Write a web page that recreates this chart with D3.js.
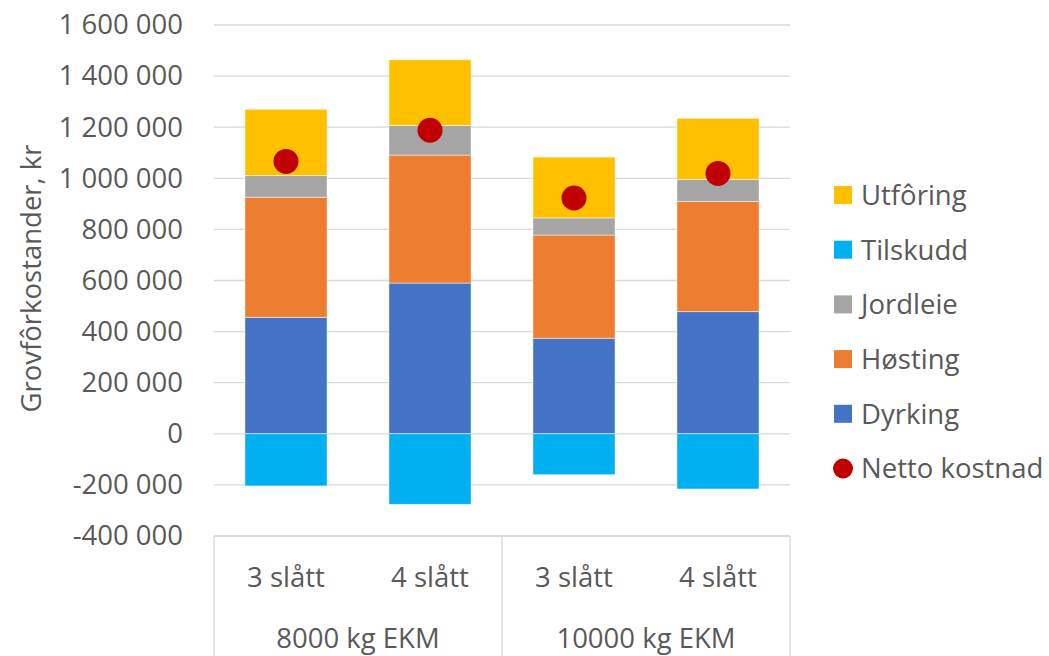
<!DOCTYPE html>
<html>
<head>
<meta charset="utf-8">
<script src="https://cdn.jsdelivr.net/npm/d3@7/dist/d3.min.js"></script>
<style>
  html, body { margin: 0; padding: 0; background: #fff; }
  svg text { font-family: "Open Sans", sans-serif; fill: #595959; }
</style>
</head>
<body>
<svg id="chart" width="1049" height="656"></svg>
<script>
// Category labels (two levels)
const categories = ["3 slått", "4 slått", "3 slått", "4 slått"];
const groups = ["8000 kg EKM", "10000 kg EKM"];

// Cost components per category, kr
const dyrking  = [456000, 590000, 374000, 478000];
const hosting  = [470000, 501000, 404000, 431000];
const jordleie = [85000, 116000, 67000, 87000];
const utforing = [259000, 257000, 238000, 239000];
const tilskudd = [-204000, -276000, -160000, -216000];
const netto    = [1066000, 1188000, 923000, 1019000];

// Axis ticks
const yTicks = [-400000, -200000, 0, 200000, 400000, 600000, 800000,
                1000000, 1200000, 1400000, 1600000];

const seriesNames = ["Dyrking", "Høsting", "Jordleie", "Utfôring", "Tilskudd"];
const seriesValues = [dyrking, hosting, jordleie, utforing, tilskudd];
const colors = {
  "Dyrking": "#4472c4",
  "Høsting": "#ed7d31",
  "Jordleie": "#a5a5a5",
  "Utfôring": "#ffc000",
  "Tilskudd": "#00b0f0"
};
const nettoColor = "#c00000";

const rows = categories.map((c, i) => {
  const r = { idx: i };
  seriesNames.forEach((s, k) => r[s] = seriesValues[k][i]);
  return r;
});

const svg = d3.select("#chart");
const plot = { left: 214, right: 790, top: 25, bottom: 536 };
const fontSize = 27.5;

const x = d3.scaleBand()
  .domain(d3.range(categories.length))
  .range([plot.left, plot.right])
  .paddingInner(0.43)
  .paddingOuter(0.215);

const y = d3.scaleLinear()
  .domain([-400000, 1600000])
  .range([plot.bottom, plot.top]);

const fmt = v => {
  const s = d3.format(",")(Math.abs(v)).replace(/,/g, " ");
  return (v < 0 ? "-" : "") + s;
};

// Gridlines and value axis labels
const yAxis = d3.axisLeft(y).tickValues(yTicks).tickSize(0).tickFormat(fmt);
const yg = svg.append("g").attr("transform", `translate(${plot.left - 31},0)`).call(yAxis);
yg.select(".domain").remove();
yg.selectAll("text")
  .attr("x", 0)
  .style("font-size", fontSize + "px")
  .style("font-family", "'Open Sans', sans-serif")
  .attr("fill", "#595959");

svg.append("g").selectAll("line")
  .data(yTicks)
  .join("line")
  .attr("x1", plot.left).attr("x2", plot.right)
  .attr("y1", d => y(d)).attr("y2", d => y(d))
  .attr("stroke", "#d9d9d9")
  .attr("stroke-width", 1.3);

// Stacked bars
const stack = d3.stack()
  .keys(["Dyrking", "Høsting", "Jordleie", "Utfôring", "Tilskudd"])
  .offset(d3.stackOffsetDiverging);
const stacked = stack(rows);

svg.append("g").selectAll("g")
  .data(stacked)
  .join("g")
  .attr("fill", d => colors[d.key])
  .selectAll("rect")
  .data(d => d)
  .join("rect")
  .attr("x", d => x(d.data.idx))
  .attr("width", x.bandwidth())
  .attr("y", d => y(Math.max(d[0], d[1])))
  .attr("height", d => Math.abs(y(d[0]) - y(d[1])))
  .attr("stroke", "#ffffff")
  .attr("stroke-opacity", 0.6)
  .attr("stroke-width", 0.8);

// Net cost markers
svg.append("g").selectAll("circle")
  .data(netto)
  .join("circle")
  .attr("cx", (d, i) => x(i) + x.bandwidth() / 2)
  .attr("cy", d => y(d))
  .attr("r", 12.5)
  .attr("fill", nettoColor);

// Category axis box
const step = x.step();
const boxBottom = 656;
const axisG = svg.append("g").attr("stroke", "#d9d9d9").attr("stroke-width", 1.3);
axisG.append("line")
  .attr("x1", plot.left).attr("x2", plot.right)
  .attr("y1", plot.bottom).attr("y2", plot.bottom);
[plot.left, (plot.left + plot.right) / 2, plot.right].forEach(xx => {
  axisG.append("line")
    .attr("x1", xx).attr("x2", xx)
    .attr("y1", plot.bottom).attr("y2", boxBottom);
});

svg.append("g").selectAll("text")
  .data(categories)
  .join("text")
  .attr("x", (d, i) => x(i) + x.bandwidth() / 2)
  .attr("y", 587)
  .attr("text-anchor", "middle")
  .style("font-size", fontSize + "px")
  .text(d => d);

const half = (plot.right - plot.left) / 2;
svg.append("g").selectAll("text")
  .data(groups)
  .join("text")
  .attr("x", (d, i) => plot.left + half * i + half / 2)
  .attr("y", 648)
  .attr("text-anchor", "middle")
  .style("font-size", fontSize + "px")
  .text(d => d);

// Value axis title
svg.append("text")
  .attr("transform", `translate(41,${(plot.top + plot.bottom) / 2 - 2}) rotate(-90)`)
  .attr("text-anchor", "middle")
  .style("font-size", fontSize + "px")
  .text("Grovfôrkostander, kr");

// Legend
const legendItems = ["Utfôring", "Tilskudd", "Jordleie", "Høsting", "Dyrking", "Netto kostnad"];
const lg = svg.append("g");
const ly0 = 195, lstep = 54.7;
legendItems.forEach((name, i) => {
  const cy = ly0 + i * lstep;
  if (name === "Netto kostnad") {
    lg.append("circle").attr("cx", 843).attr("cy", cy).attr("r", 10).attr("fill", nettoColor);
  } else {
    lg.append("rect").attr("x", 834).attr("y", cy - 9).attr("width", 18).attr("height", 18)
      .attr("fill", colors[name]);
  }
  lg.append("text")
    .attr("x", 861)
    .attr("y", cy)
    .attr("dy", "0.36em")
    .style("font-size", fontSize + "px")
    .text(name);
});
</script>
</body>
</html>
